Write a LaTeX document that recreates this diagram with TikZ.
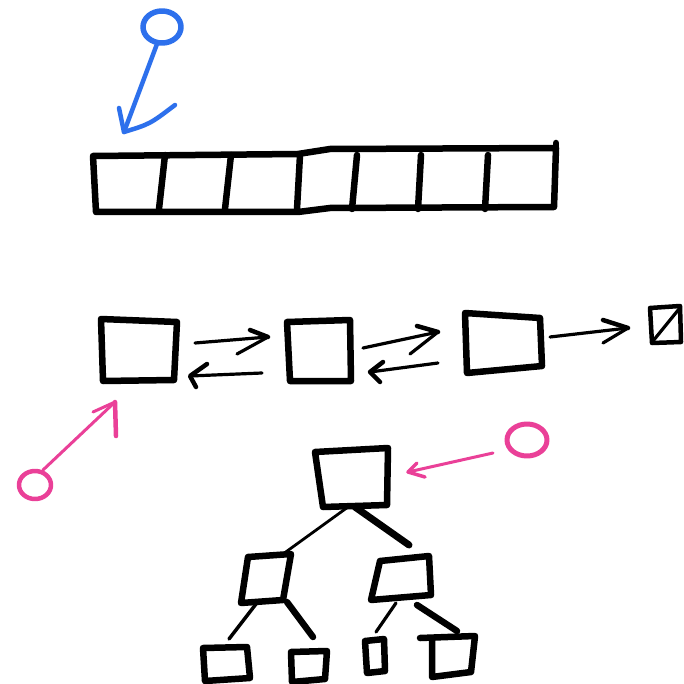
\documentclass[tikz,border=0pt]{standalone}
\definecolor{penblue}{RGB}{45,112,236}
\definecolor{penpink}{RGB}{234,64,152}
\begin{document}
\begin{tikzpicture}[x=1pt,y=-1pt,
  ink/.style={draw=black,line width=6.5pt,line join=round,line cap=round},
  midink/.style={draw=black,line width=4.5pt,line join=round,line cap=round},
  thinink/.style={draw=black,line width=3.2pt,line join=round,line cap=round},
  blueink/.style={draw=penblue,line width=4.5pt,line join=round,line cap=round},
  pinkink/.style={draw=penpink,line width=3pt,line join=round,line cap=round}]
\fill[white] (0,0) rectangle (684,684);
\useasboundingbox (0,0) rectangle (684,684);

% ---- array ----
\draw[ink] (93,156) -- (298,154) -- (330,149) -- (556,148) -- (554,207)
  -- (330,208) -- (298,212) -- (96,212) -- cycle;
\draw[ink] (556,143) -- (556,150);
\foreach \xt/\xb in {165/159, 231/225, 300/297, 357/352, 421/418, 488/485}
  \draw[ink] (\xt,155) -- (\xb,209);

% ---- blue pointer ----
\coordinate (bsrc) at (157,44);
\coordinate (btip) at (124,132);
\draw[blueink,line width=5.5pt] (162,27) ellipse [x radius=19, y radius=16];
\draw[blueink] (bsrc) -- (btip);
\draw[blueink] (119,108) -- (btip) .. controls (150,124) .. (175,105);

% ---- linked list ----
\draw[ink] (101,319) -- (177,322) -- (174,380) -- (103,381) -- cycle;
\draw[ink] (287,322) -- (350,320) -- (351,381) -- (290,381) -- cycle;
\draw[ink] (465,313) -- (540,318) -- (542,366) -- (467,373) -- cycle;
\draw[midink] (650,308) -- (680,306) -- (681,342) -- (652,343) -- cycle;
\draw[thinink] (653,341) -- (679,309);

\coordinate (a1s) at (195,343); \coordinate (a1t) at (268,337);
\draw[thinink] (a1s) -- (a1t);
\draw[midink] (250,330) -- (a1t);
\draw[thinink] (a1t) -- (237,354);
\coordinate (a2s) at (262,373); \coordinate (a2t) at (190,376);
\draw[thinink] (a2s) -- (a2t);
\draw[midink] (207,364) -- (a2t) -- (196,387);

\coordinate (a3s) at (363,348); \coordinate (a3t) at (438,332);
\draw[thinink] (a3s) -- (a3t);
\draw[midink] (417,326) -- (a3t);
\draw[thinink] (a3t) -- (410,354);
\coordinate (a4s) at (438,363); \coordinate (a4t) at (370,372);
\draw[thinink] (a4s) -- (a4t);
\draw[midink] (383,362) -- (a4t) -- (380,382);

\coordinate (a5s) at (550,337); \coordinate (a5t) at (628,328);
\draw[thinink] (a5s) -- (a5t);
\draw[midink] (603,320) -- (a5t);
\draw[thinink] (a5t) -- (603,343);

% ---- pink pointer to list ----
\coordinate (p1s) at (43,470); \coordinate (p1t) at (115,402);
\draw[pinkink,line width=4.5pt] (35,485) ellipse [x radius=16, y radius=14];
\draw[pinkink] (p1s) -- (p1t);
\draw[pinkink] (93,412) -- (p1t);
\draw[pinkink,line width=4.5pt] (p1t) -- (116,436);

% ---- tree ----
\draw[ink] (315,452) -- (388,448) -- (387,505) -- (323,507) -- cycle;
\draw[ink] (248,557) -- (291,554) -- (283,600) -- (241,603) -- cycle;
\draw[ink] (380,561) -- (429,556) -- (431,595) -- (371,600) -- cycle;
\draw[ink] (203,648) -- (247,647) -- (250,678) -- (205,681) -- cycle;
\draw[ink] (291,652) -- (327,651) -- (325,679) -- (292,682) -- cycle;
\draw[ink] (365,641) -- (384,639) -- (385,671) -- (367,673) -- cycle;
\draw[ink] (420,638) -- (475,636) -- (471,672) -- (432,677) -- (432,640);

\draw[thinink,line width=2.8pt] (348,507) -- (283,554);
\draw[ink,line width=7pt] (355,507) -- (409,545);
\draw[thinink,line width=3.5pt] (256,604) -- (229,639);
\draw[ink] (287,602) -- (313,637);
\draw[thinink] (396,603) -- (376,632);
\draw[ink] (417,605) -- (457,631);

% ---- pink pointer to tree ----
\coordinate (p2s) at (493,453); \coordinate (p2t) at (408,472);
\draw[pinkink,line width=5pt] (527,440) ellipse [x radius=20, y radius=16];
\draw[pinkink] (p2s) -- (p2t);
\draw[pinkink,line width=3.5pt] (417,463) -- (p2t) -- (425,477);
\end{tikzpicture}
\end{document}
